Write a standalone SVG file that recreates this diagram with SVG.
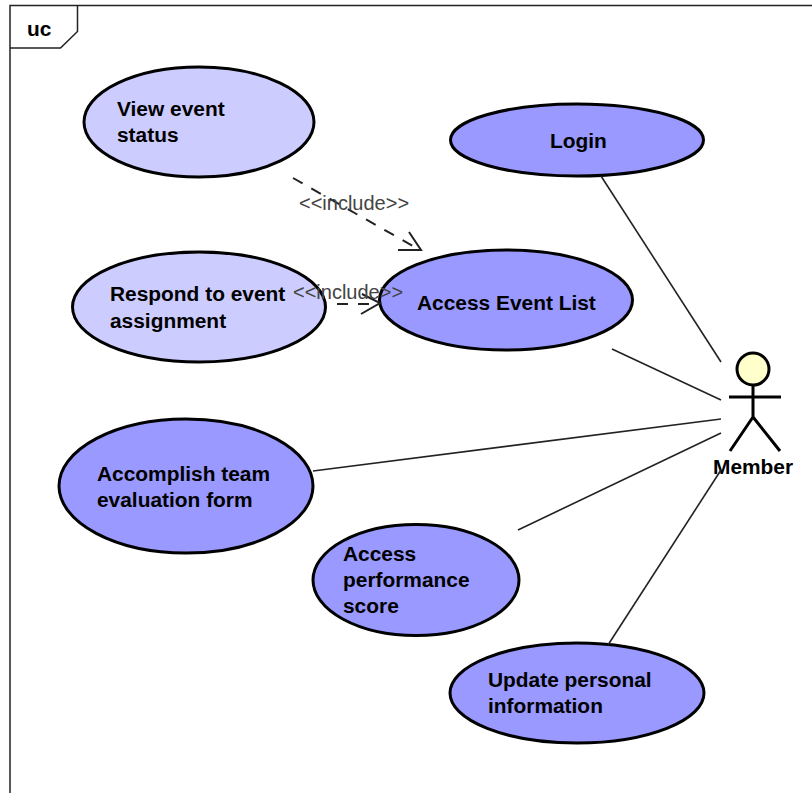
<svg xmlns="http://www.w3.org/2000/svg" width="812" height="793" viewBox="0 0 812 793">
<style>
text{font-family:"Liberation Sans",Arial,sans-serif;fill:#000}
.n{font-size:20.9px;font-weight:bold}
.uc{stroke:#000;stroke-width:3}
.l{fill:#ccccff}.d{fill:#9999ff}
.c{stroke:#222;stroke-width:1.6;fill:none}
.h{stroke:#222;stroke-width:2;fill:none}
.i{font-size:20px;fill:#444}
.dash{stroke-dasharray:11 10;stroke-width:2}
</style>
<rect width="812" height="793" fill="#fff"/>
<g id="frame" fill="none" stroke="#222" stroke-width="1.5">
<path d="M10 793V5.500H812"/>
<path d="M10 48H60.500L77.500 31.500V5.500"/>
<text x="27" y="36" class="n" stroke="none">uc</text>
</g>
<g id="view-event-status"><ellipse class="uc l" cx="199" cy="122" rx="115" ry="55"/><text class="n" x="117" y="116">View event</text><text class="n" x="117" y="142">status</text></g>
<g id="login"><ellipse class="uc d" cx="577" cy="140" rx="126.500" ry="36"/><text class="n" x="550" y="148">Login</text></g>
<g id="respond"><ellipse class="uc l" cx="199" cy="307" rx="126.500" ry="55"/><text class="n" x="110" y="301">Respond to event</text><text class="n" x="110" y="328">assignment</text></g>
<g id="access-event-list"><ellipse class="uc d" cx="506" cy="300" rx="126.500" ry="50"/><text class="n" x="417" y="310">Access Event List</text></g>
<g id="accomplish"><ellipse class="uc d" cx="186" cy="486" rx="127" ry="67"/><text class="n" x="97" y="481">Accomplish team</text><text class="n" x="97" y="507">evaluation form</text></g>
<g id="access-performance"><ellipse class="uc d" cx="416" cy="580" rx="103" ry="55.500"/><text class="n" x="343" y="561">Access</text><text class="n" x="343" y="587">performance</text><text class="n" x="343" y="613">score</text></g>
<g id="update-personal"><ellipse class="uc d" cx="577" cy="693" rx="127" ry="50"/><text class="n" x="488" y="687">Update personal</text><text class="n" x="488" y="713">information</text></g>
<g id="member">
<circle cx="753" cy="369" r="16" fill="#ffffcc" stroke="#000" stroke-width="3"/>
<path d="M729 397H781M753 385V417M753 417L730 451M753 417L780 451" fill="none" stroke="#000" stroke-width="3"/>
<text class="n" x="713" y="474">Member</text>
</g>
<g id="connectors">
<path class="c" d="M601 176L721 362"/>
<path class="c" d="M612 349L721 400"/>
<path class="c" d="M313 471L721 419"/>
<path class="c" d="M518 530L721 433"/>
<path class="c" d="M608 645L721 470"/>
<path class="c dash" d="M293 178L420 250"/>
<path class="h" d="M409 232L421 250H398"/>
<path class="c dash" d="M337 304H380"/>
<path class="h" d="M361 314L380 303L362 294"/>
</g>
<g id="labels">
<text class="i" x="299" y="210">&lt;&lt;include&gt;&gt;</text>
<text class="i" x="293" y="299">&lt;&lt;include&gt;&gt;</text>
</g>
</svg>
